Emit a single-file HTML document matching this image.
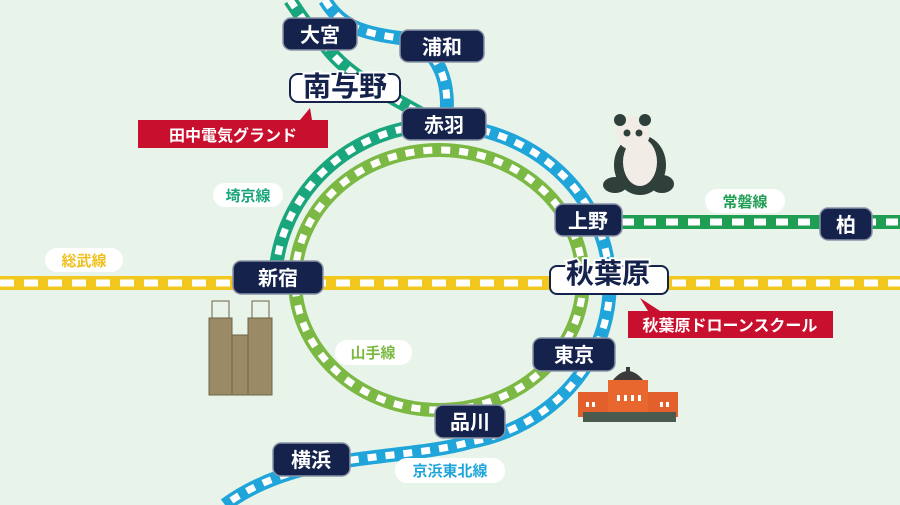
<!DOCTYPE html>
<html><head><meta charset="utf-8"><style>
html,body{margin:0;padding:0;width:900px;height:505px;overflow:hidden;background:#e8f3ea}
svg{display:block}
text{font-family:"Liberation Sans","Noto Sans CJK JP",sans-serif;font-weight:bold}
</style></head><body>
<svg width="900" height="505" viewBox="0 0 900 505" xmlns="http://www.w3.org/2000/svg">
<rect width="900" height="505" fill="#e8f3ea"/>
<g fill="none">
<path d="M0,283 H900" stroke="#f2c81e" stroke-width="14"/>
<path d="M0,283 H900" stroke="#fff" stroke-width="7" stroke-dasharray="14 10"/>
<path d="M600,222 H900" stroke="#1e9e52" stroke-width="14"/>
<path d="M600,222 H900" stroke="#fff" stroke-width="7" stroke-dasharray="12 10"/>
<ellipse cx="439" cy="280" rx="144" ry="130" stroke="#7cb944" stroke-width="14"/>
<ellipse cx="439" cy="280" rx="144" ry="130" stroke="#fff" stroke-width="7" stroke-dasharray="9 9"/>
<path d="M290,0 C300,15 310,30 325,45 C350,80 400,100 440,125 A164,160 0 0 0 275,285" stroke="#1aa67c" stroke-width="14"/>
<path d="M290,0 C300,15 310,30 325,45 C350,80 400,100 440,125 A164,160 0 0 0 275,285" stroke="#fff" stroke-width="7" stroke-dasharray="9 9"/>
<path d="M325,0 C340,25 360,33 400,38 C440,45 452,85 445,125 A172,160 0 0 1 470,442 C400,462 300,450 225,505" stroke="#1fa5d9" stroke-width="14"/>
<path d="M325,0 C340,25 360,33 400,38 C440,45 452,85 445,125 A172,160 0 0 1 470,442 C400,462 300,450 225,505" stroke="#fff" stroke-width="7" stroke-dasharray="9 9"/>
</g>

<g font-size="15" text-anchor="middle">
<rect x="213" y="183" width="70" height="24" rx="12" fill="#fff"/><text x="248" y="201" fill="#1aa67c">埼京線</text>
<rect x="45" y="248" width="78" height="24" rx="12" fill="#fff"/><text x="84" y="266" fill="#f0c020">総武線</text>
<rect x="705" y="189" width="80" height="24" rx="12" fill="#fff"/><text x="745" y="207" fill="#1e9e52">常磐線</text>
<rect x="335" y="340" width="77" height="25" rx="12" fill="#fff"/><text x="373" y="358" fill="#7cb944">山手線</text>
<rect x="395" y="458" width="110" height="25" rx="12" fill="#fff"/><text x="450" y="476" fill="#1fa5d9">京浜東北線</text>
</g>

<path d="M138,120 H300 L310,108 L312,120 H328 V148 H138 Z" fill="#c8102e"/>
<text x="233" y="141" font-size="16" fill="#fff" text-anchor="middle">田中電気グランド</text>
<path d="M628,311 H648 L640,298 L660,311 H833 V338 H628 Z" fill="#c8102e"/>
<text x="730" y="331" font-size="16" fill="#fff" text-anchor="middle">秋葉原ドローンスクール</text>

<g font-size="20" fill="#fff" text-anchor="middle">
<g stroke="#8a93a8" stroke-width="1.5">
<rect x="283" y="18" width="74" height="32" rx="8" fill="#14224c"/>
<rect x="400" y="30" width="84" height="32" rx="8" fill="#14224c"/>
<rect x="402" y="108" width="84" height="32" rx="8" fill="#14224c"/>
<rect x="555" y="204" width="67" height="32" rx="8" fill="#14224c"/>
<rect x="820" y="208" width="52" height="32" rx="8" fill="#14224c"/>
<rect x="233" y="261" width="90" height="33" rx="8" fill="#14224c"/>
<rect x="533" y="338" width="82" height="33" rx="8" fill="#14224c"/>
<rect x="435" y="405" width="70" height="33" rx="8" fill="#14224c"/>
<rect x="273" y="443" width="77" height="33" rx="8" fill="#14224c"/>
</g>
<text x="320" y="42">大宮</text>
<text x="442" y="54">浦和</text>
<text x="444" y="132">赤羽</text>
<text x="588" y="228">上野</text>
<text x="846" y="232">柏</text>
<text x="278" y="285">新宿</text>
<text x="574" y="362">東京</text>
<text x="470" y="429">品川</text>
<text x="311" y="467">横浜</text>
</g>

<rect x="290" y="74" width="110" height="28" rx="8" fill="#fff" stroke="#14224c" stroke-width="2"/>
<text x="345" y="96" font-size="28" font-weight="900" fill="#14224c" stroke="#fff" stroke-width="4" paint-order="stroke" text-anchor="middle">南与野</text>
<rect x="550" y="266" width="118" height="28" rx="7" fill="#fff" stroke="#14224c" stroke-width="2"/>
<text x="608" y="283" font-size="28" font-weight="900" fill="#14224c" stroke="#fff" stroke-width="4" paint-order="stroke" text-anchor="middle">秋葉原</text>

<g>
<ellipse cx="640" cy="165" rx="26" ry="30" fill="#2f3f3a"/>
<ellipse cx="640" cy="162" rx="17" ry="24" fill="#f1ede6"/>
<circle cx="633" cy="133" r="17" fill="#f1ede6"/>
<circle cx="620" cy="120" r="6" fill="#2f3f3a"/><circle cx="645" cy="120" r="6" fill="#2f3f3a"/>
<circle cx="627" cy="133" r="3.5" fill="#2f3f3a"/><circle cx="639" cy="133" r="3.5" fill="#2f3f3a"/>
<ellipse cx="615" cy="185" rx="12" ry="8" fill="#2f3f3a"/>
<ellipse cx="662" cy="184" rx="12" ry="9" fill="#2f3f3a"/>
</g>

<g>
<rect x="578" y="392" width="100" height="25" fill="#e35f2c"/>
<rect x="608" y="380" width="40" height="37" fill="#e8672f"/>
<path d="M613,380 Q628,362 643,380 Z" fill="#3a3a3a"/>
<rect x="626" y="367" width="4" height="8" fill="#3a3a3a"/>
<rect x="583" y="412" width="93" height="10" fill="#4a5a4e"/>
<g fill="#fff"><rect x="586" y="402" width="3" height="5"/><rect x="592" y="402" width="3" height="5"/><rect x="660" y="402" width="3" height="5"/><rect x="666" y="402" width="3" height="5"/><rect x="617" y="395" width="3" height="6"/><rect x="624" y="395" width="3" height="6"/><rect x="631" y="395" width="3" height="6"/><rect x="638" y="395" width="3" height="6"/></g>
</g>

<g fill="#9b8a66" stroke="#6f6246" stroke-width="1">
<rect x="230" y="335" width="20" height="60"/>
<rect x="209" y="318" width="23" height="77"/>
<rect x="248" y="318" width="24" height="77"/>
<rect x="212" y="301" width="17" height="17" fill="none"/>
<rect x="252" y="301" width="17" height="17" fill="none"/>
</g>
</svg>
</body></html>
